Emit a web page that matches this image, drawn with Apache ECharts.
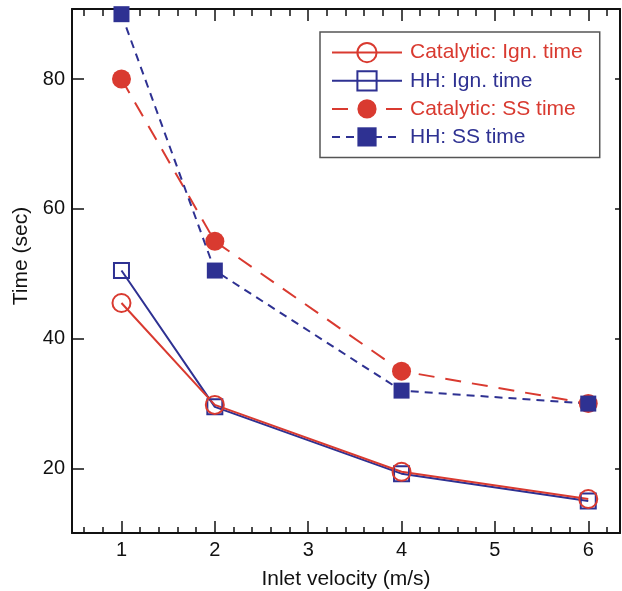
<!DOCTYPE html>
<html>
<head>
<meta charset="utf-8">
<script src="https://cdn.jsdelivr.net/npm/echarts@6/dist/echarts.min.js"></script>
<style>
  html, body { margin: 0; padding: 0; background: #fff; }
  #chart { width: 622px; height: 591px; }
</style>
</head>
<body>
<div id="chart"></div>
<script>
// Inlet velocity (m/s) at which each run was made
const velocity = [1, 2, 4, 6];
// Ignition and steady-state times (sec)
const catalyticIgn = [45.5, 29.8, 19.5, 15.3];
const hhIgn = [50.5, 29.5, 19.2, 15.0];
const catalyticSS = [80, 55, 35, 30];
const hhSS = [90, 50.5, 32, 30];
// Axis tick labels
const xTickLabels = [1, 2, 3, 4, 5, 6];
const yTickLabels = [20, 40, 60, 80];
const seriesNames = ['Catalytic: Ign. time', 'HH: Ign. time', 'Catalytic: SS time', 'HH: SS time'];

const RED = '#d93a30';
const BLUE = '#2e3192';
const INK = '#111';
const FONT = '"Liberation Sans", Arial, Helvetica, sans-serif';

const X_MIN = 0.47, X_MAX = 6.34;
const Y_MIN = 10.06, Y_MAX = 90.8;

// minor ticks every 0.2 between the labelled ones
const xMinorTicks = [];
for (let k = 3; k <= 31; k++) {
  if (k % 5 !== 0) xMinorTicks.push(k / 5);
}

function pairs(ys) {
  return velocity.map((x, i) => [x, ys[i]]);
}

const frameLine = { show: true, lineStyle: { color: INK, width: 2 } };
const tickLine = { color: INK, width: 1.5 };

function xAxisSpec(position, ticks, len, line, withLabels) {
  const spec = {
    type: 'value', position: position, min: X_MIN, max: X_MAX,
    axisLine: line ? frameLine : { show: false },
    axisTick: { show: true, inside: true, length: len, lineStyle: tickLine, customValues: ticks },
    axisLabel: { show: false },
    splitLine: { show: false }
  };
  if (withLabels) {
    spec.axisLabel = { show: true, customValues: xTickLabels, margin: 7, fontSize: 20, color: INK, fontFamily: FONT };
    spec.name = 'Inlet velocity (m/s)';
    spec.nameLocation = 'middle';
    spec.nameGap = 36;
    spec.nameTextStyle = { fontSize: 21, color: INK, fontFamily: FONT };
  }
  return spec;
}

const chart = echarts.init(document.getElementById('chart'), null, { renderer: 'canvas' });

chart.setOption({
  animation: false,
  backgroundColor: '#fff',
  textStyle: { fontFamily: FONT },
  grid: { left: 72, right: 2, top: 9, bottom: 58, outerBoundsMode: 'none' },
  xAxis: [
    xAxisSpec('bottom', xTickLabels, 12, true, true),
    xAxisSpec('bottom', xMinorTicks, 6, false, false),
    xAxisSpec('top', xTickLabels, 12, true, false),
    xAxisSpec('top', xMinorTicks, 7, false, false)
  ],
  yAxis: [
    {
      type: 'value', position: 'left', min: Y_MIN, max: Y_MAX,
      axisLine: frameLine,
      axisTick: { show: true, inside: true, length: 12, lineStyle: tickLine, customValues: yTickLabels },
      axisLabel: { show: true, customValues: yTickLabels, margin: 7, fontSize: 20, color: INK, fontFamily: FONT },
      splitLine: { show: false },
      name: 'Time (sec)', nameLocation: 'middle', nameGap: 40,
      nameTextStyle: { fontSize: 21, color: INK, fontFamily: FONT, padding: [0, 0, 0, 30] }
    },
    {
      type: 'value', position: 'right', min: Y_MIN, max: Y_MAX,
      axisLine: frameLine,
      axisTick: { show: true, inside: true, length: 5, lineStyle: tickLine, customValues: yTickLabels },
      axisLabel: { show: false },
      splitLine: { show: false }
    }
  ],
  legend: {
    orient: 'vertical',
    left: 320, top: 32,
    padding: [10, 17, 10, 11],
    itemWidth: 70, itemHeight: 24, itemGap: 7,
    borderColor: '#555', borderWidth: 1.5,
    backgroundColor: '#fff',
    selectedMode: false,
    textStyle: { fontSize: 21, fontFamily: FONT, padding: [0, 0, 0, 3] },
    data: seriesNames.map((n, i) => ({ name: n, textStyle: { color: i % 2 ? BLUE : RED } }))
  },
  series: [
    {
      name: seriesNames[1], type: 'line', data: pairs(hhIgn),
      symbol: 'rect', symbolSize: 15,
      itemStyle: { color: 'rgba(0,0,0,0)', borderColor: BLUE, borderWidth: 2 },
      lineStyle: { color: BLUE, width: 2 }
    },
    {
      name: seriesNames[0], type: 'line', data: pairs(catalyticIgn),
      symbol: 'circle', symbolSize: 18,
      itemStyle: { color: 'rgba(0,0,0,0)', borderColor: RED, borderWidth: 2 },
      lineStyle: { color: RED, width: 2 }
    },
    {
      name: seriesNames[2], type: 'line', data: pairs(catalyticSS),
      symbol: 'circle', symbolSize: 19,
      itemStyle: { color: RED },
      lineStyle: { color: RED, width: 2, type: [16, 11] }
    },
    {
      name: seriesNames[3], type: 'line', data: pairs(hhSS),
      symbol: 'rect', symbolSize: 16,
      itemStyle: { color: BLUE },
      lineStyle: { color: BLUE, width: 2, type: [8, 6] }
    }
  ]
});
</script>
</body>
</html>
